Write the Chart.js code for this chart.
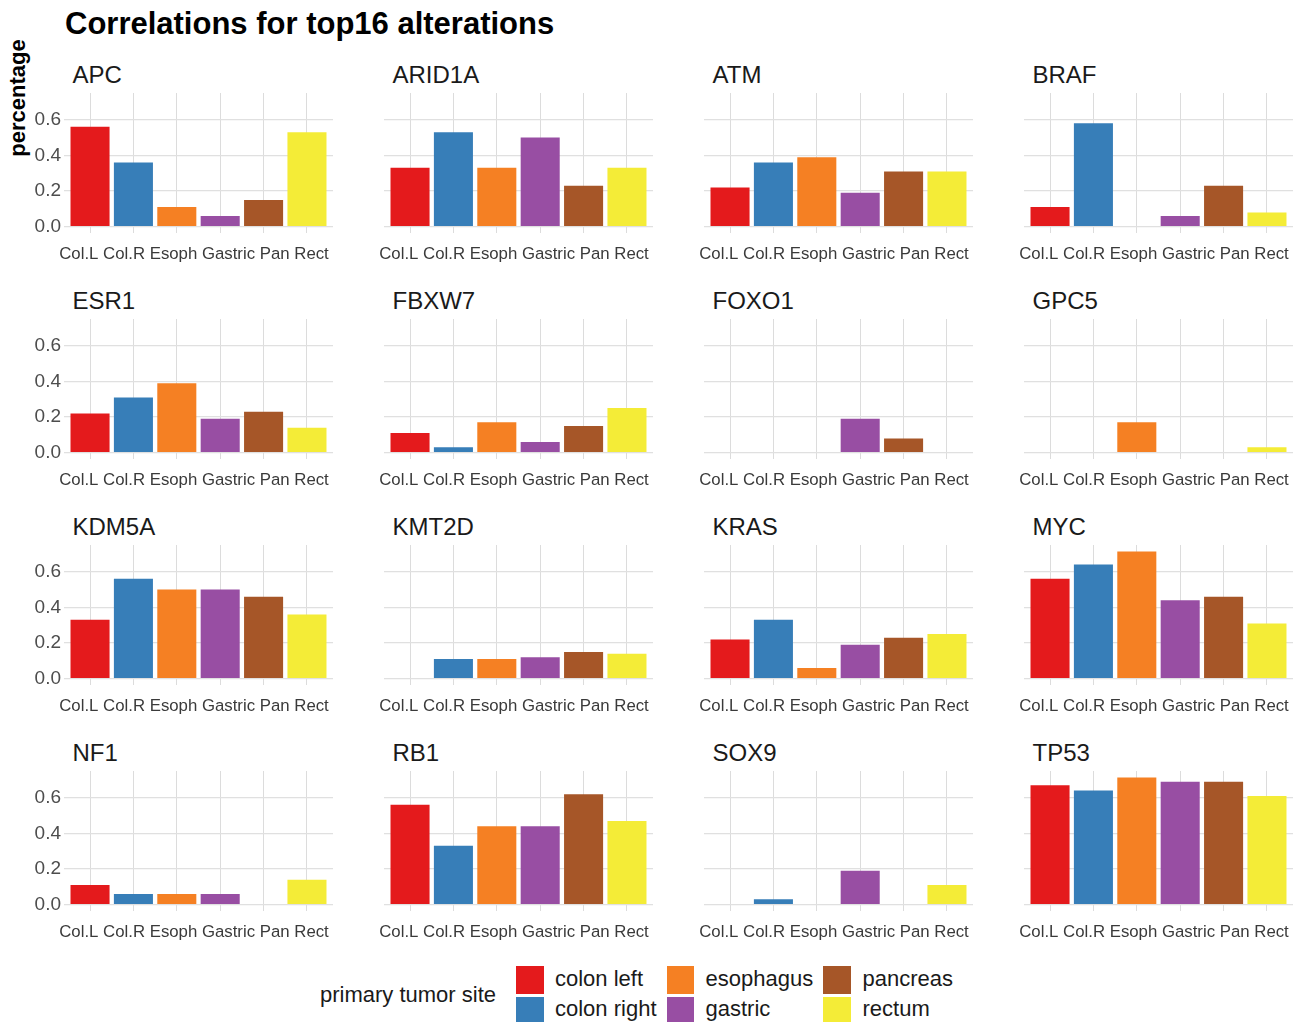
<!DOCTYPE html>
<html><head><meta charset="utf-8">
<script src="https://cdn.jsdelivr.net/npm/chart.js@4.4.1/dist/chart.umd.min.js"></script>
<style>
html,body{margin:0;padding:0;background:#fff;}
#wrap{position:relative;width:1296px;height:1022px;overflow:hidden;background:#fff;font-family:"Liberation Sans",Arial,Helvetica,sans-serif;}
.abs{position:absolute;white-space:nowrap;line-height:1;}
canvas{position:absolute;}
</style></head><body><div id="wrap"></div>
<script>
// ---------- data ----------
const mainTitle = "Correlations for top16 alterations";
const yTitle = "percentage";
const legendTitle = "primary tumor site";
const categories = ["Col.L","Col.R","Esoph","Gastric","Pan","Rect"];
const sites = ["colon left","colon right","esophagus","gastric","pancreas","rectum"];
const siteColors = ["#E41A1C","#377EB8","#F58023","#984EA3","#A65628","#F4EC37"];
const genes = ["APC","ARID1A","ATM","BRAF","ESR1","FBXW7","FOXO1","GPC5","KDM5A","KMT2D","KRAS","MYC","NF1","RB1","SOX9","TP53"];
const vAPC    = [0.56, 0.36, 0.11, 0.06, 0.15, 0.53];
const vARID1A = [0.33, 0.53, 0.33, 0.50, 0.23, 0.33];
const vATM    = [0.22, 0.36, 0.39, 0.19, 0.31, 0.31];
const vBRAF   = [0.11, 0.58, null, 0.06, 0.23, 0.08];
const vESR1   = [0.22, 0.31, 0.39, 0.19, 0.23, 0.14];
const vFBXW7  = [0.11, 0.03, 0.17, 0.06, 0.15, 0.25];
const vFOXO1  = [null, null, null, 0.19, 0.08, null];
const vGPC5   = [null, null, 0.17, null, null, 0.03];
const vKDM5A  = [0.33, 0.56, 0.50, 0.50, 0.46, 0.36];
const vKMT2D  = [null, 0.11, 0.11, 0.12, 0.15, 0.14];
const vKRAS   = [0.22, 0.33, 0.06, 0.19, 0.23, 0.25];
const vMYC    = [0.56, 0.64, 0.714, 0.44, 0.46, 0.31];
const vNF1    = [0.11, 0.06, 0.06, 0.06, null, 0.14];
const vRB1    = [0.56, 0.33, 0.44, 0.44, 0.62, 0.47];
const vSOX9   = [null, 0.03, null, 0.19, null, 0.11];
const vTP53   = [0.67, 0.64, 0.714, 0.69, 0.69, 0.61];
const yTickValues = [0, 0.1, 0.2, 0.3, 0.4, 0.5, 0.6, 0.7];
const yMajorTicks = [0, 0.2, 0.4, 0.6];

const panelValues = [vAPC,vARID1A,vATM,vBRAF,vESR1,vFBXW7,vFOXO1,vGPC5,vKDM5A,vKMT2D,vKRAS,vMYC,vNF1,vRB1,vSOX9,vTP53];

// ---------- layout ----------
const wrap = document.getElementById('wrap');
const FONT = '"Liberation Sans", Arial, Helvetica, sans-serif';
const colLeft = [64, 384, 704, 1024];
const rowTop = [93, 319, 545, 771];
const PW = 269, PH = 140, YW = 50, XH = 40;
const Y_MIN = -0.0357, Y_MAX = 0.75;

function addText(txt, css) {
  const d = document.createElement('div');
  d.className = 'abs';
  d.textContent = txt;
  Object.assign(d.style, css);
  wrap.appendChild(d);
  return d;
}

// category labels laid out as one spaced run under each panel (as in the reference)
const xLabelPlugin = {
  id: 'xLabelRun',
  afterDraw(chart) {
    const ctx = chart.ctx, area = chart.chartArea;
    ctx.save();
    ctx.font = '16.8px ' + FONT;
    ctx.fillStyle = '#3a3a3a';
    ctx.textBaseline = 'middle';
    ctx.textAlign = 'left';
    const sp = ctx.measureText(' ').width;
    const widths = categories.map(t => ctx.measureText(t).width);
    const total = widths.reduce((a, b) => a + b, 0) + sp * (categories.length - 1);
    let x = (area.left + area.right) / 2 - 4.5 - total / 2;
    categories.forEach((t, i) => { ctx.fillText(t, x, area.bottom + 21); x += widths[i] + sp; });
    ctx.restore();
  }
};

addText(mainTitle, {left:'65px', top:'8px', fontSize:'31px', fontWeight:'bold', color:'#000'});
addText(yTitle, {left:'-82px', top:'87px', width:'200px', textAlign:'center', fontSize:'22px', lineHeight:'22px', fontWeight:'bold', color:'#000', transform:'rotate(-90deg)'});

genes.forEach((g, k) => {
  const c = k % 4, r = Math.floor(k / 4);
  const left = colLeft[c], top = rowTop[r];
  addText(g, {left:(left + 8.5) + 'px', top:(top - 30) + 'px', fontSize:'24px', color:'#1a1a1a'});
  const cv = document.createElement('canvas');
  cv.width = YW + PW; cv.height = PH + XH;
  cv.style.left = (left - YW) + 'px'; cv.style.top = top + 'px';
  cv.style.width = cv.width + 'px'; cv.style.height = cv.height + 'px';
  wrap.appendChild(cv);
  const vals = panelValues[k];
  new Chart(cv, {
    type: 'bar',
    data: {
      datasets: [{
        data: vals.map((v, i) => ({x: i + 1, y: v})),
        backgroundColor: siteColors,
        borderWidth: 0,
        barPercentage: 0.9,
        categoryPercentage: 1.0
      }]
    },
    plugins: [xLabelPlugin],
    options: {
      responsive: false,
      animation: false,
      devicePixelRatio: 1,
      layout: {padding: 0, autoPadding: false},
      plugins: {legend: {display: false}, tooltip: {enabled: false}, title: {display: false}},
      scales: {
        x: {
          type: 'linear', min: 0.4, max: 6.6, offset: false,
          afterBuildTicks: s => { s.ticks = categories.map((cat, i) => ({value: i + 1})); },
          afterFit: s => { s.height = XH; s.paddingLeft = 0; s.paddingRight = 0; },
          grid: {color: '#dcdcdc', lineWidth: 1, drawTicks: false, offset: false},
          border: {display: false},
          ticks: {display: false}
        },
        y: {
          min: Y_MIN, max: Y_MAX,
          afterBuildTicks: s => { s.ticks = yTickValues.map(v => ({value: v})); },
          afterFit: s => { s.width = YW; s.paddingTop = 0; s.paddingBottom = 0; },
          grid: {
            color: ctx => (ctx.tick && yMajorTicks.some(m => Math.abs(m - ctx.tick.value) < 1e-6)) ? '#e0e0e0' : '#e6e6e6',
            lineWidth: ctx => (ctx.tick && yMajorTicks.some(m => Math.abs(m - ctx.tick.value) < 1e-6)) ? 1.2 : 0.8,
            drawTicks: false
          },
          border: {display: false},
          ticks: {
            padding: 3, color: '#4d4d4d', font: {family: FONT, size: 19},
            callback: v => (c === 0 && yMajorTicks.some(m => Math.abs(m - v) < 1e-6)) ? v.toFixed(1) : ''
          }
        }
      }
    }
  });
});

// ---------- legend ----------
addText(legendTitle, {left:'320px', top:'984px', fontSize:'22px', color:'#1a1a1a'});
const legX = [516, 666.5, 823];
const legTextX = [555, 705.5, 862.5];
const legY = [966, 996.5];
sites.forEach((s, i) => {
  const col = Math.floor(i / 2), row = i % 2;
  const key = document.createElement('div');
  Object.assign(key.style, {position:'absolute', left: legX[col] + 'px', top: legY[row] + 'px', width:'27.5px', height:'27.5px', background: siteColors[i]});
  wrap.appendChild(key);
  addText(s, {left: legTextX[col] + 'px', top: (legY[row] + 1.5) + 'px', fontSize:'22px', color:'#1a1a1a'});
});
</script></body></html>
